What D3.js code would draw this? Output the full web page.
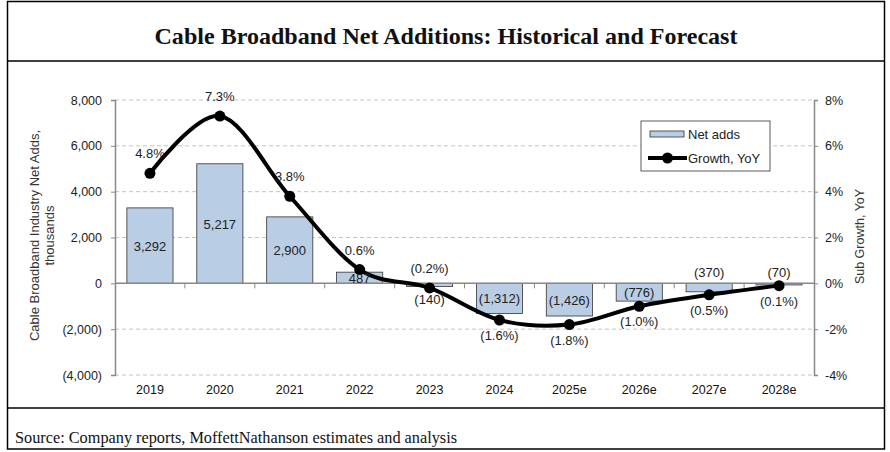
<!DOCTYPE html>
<html>
<head>
<meta charset="utf-8">
<script src="https://cdn.jsdelivr.net/npm/d3@7"></script>
<style>
  body { margin: 0; background: #fff; }
  text { font-family: "Liberation Sans", Arial, sans-serif; }
</style>
</head>
<body>
<svg id="chart" width="890" height="452"></svg>
<script>
const years = ['2019', '2020', '2021', '2022', '2023', '2024', '2025e', '2026e', '2027e', '2028e'];
const netAdds = [3292, 5217, 2900, 487, -140, -1312, -1426, -776, -370, -70];
const growth = [4.8, 7.3, 3.8, 0.6, -0.2, -1.6, -1.8, -1.0, -0.5, -0.1];
// where each label sits relative to its mark
const barLabelPos = ['mid', 'mid', 'mid', 'mid', 'below', 'mid', 'mid', 'mid', 'above', 'above'];
const growthLabelPos = ['above', 'above', 'above', 'above', 'above', 'below', 'below', 'below', 'below', 'below'];
const leftTicks = [-4000, -2000, 0, 2000, 4000, 6000, 8000];
const rightTicks = [-4, -2, 0, 2, 4, 6, 8];

const svg = d3.select('#chart');

const fmtNum = v => v < 0 ? '(' + d3.format(',')(-v) + ')' : d3.format(',')(v);
const fmtPct = v => v < 0 ? '(' + d3.format('.1f')(-v) + '%)' : d3.format('.1f')(v) + '%';

// frame
svg.append('rect')
    .attr('x', 7.5).attr('y', 1.5).attr('width', 877).attr('height', 447.5)
    .attr('fill', 'none').attr('stroke', '#000').attr('stroke-width', 1.5);
[61, 408].forEach(yy => {
    svg.append('line')
        .attr('x1', 7.5).attr('x2', 884.5).attr('y1', yy).attr('y2', yy)
        .attr('stroke', '#000').attr('stroke-width', 1.5);
});

svg.append('text')
    .attr('x', 446).attr('y', 44)
    .attr('text-anchor', 'middle')
    .attr('textLength', 583)
    .attr('lengthAdjust', 'spacingAndGlyphs')
    .style('font-family', '"Liberation Serif", "Times New Roman", serif')
    .style('font-weight', 'bold')
    .style('font-size', '23px')
    .attr('fill', '#111')
    .text('Cable Broadband Net Additions: Historical and Forecast');

svg.append('text')
    .attr('x', 15).attr('y', 443)
    .attr('textLength', 442)
    .attr('lengthAdjust', 'spacingAndGlyphs')
    .style('font-family', '"Liberation Serif", "Times New Roman", serif')
    .style('font-size', '16px')
    .attr('fill', '#111')
    .text('Source: Company reports, MoffettNathanson estimates and analysis');

const plotL = 115, plotR = 814, plotT = 100, plotB = 375;

const x = d3.scaleBand().domain(years).range([plotL, plotR]).paddingInner(0.34).paddingOuter(0.17);
const y = d3.scaleLinear().domain([-4000, 8000]).range([plotB, plotT]);
const y2 = d3.scaleLinear().domain([-4, 8]).range([plotB, plotT]);

// gridlines
svg.append('g')
    .selectAll('line')
    .data(leftTicks.filter(d => d !== 0))
    .enter().append('line')
    .attr('x1', plotL).attr('x2', plotR)
    .attr('y1', d => y(d)).attr('y2', d => y(d))
    .attr('stroke', '#c4c4c4')
    .attr('stroke-dasharray', '4,3');

// left axis
const gl = svg.append('g')
    .attr('transform', `translate(${plotL},0)`)
    .call(d3.axisLeft(y).tickValues(leftTicks).tickSize(4).tickPadding(9).tickFormat(fmtNum));
gl.select('.domain').attr('stroke', '#888').attr('stroke-width', 1.5);
gl.selectAll('.tick line').attr('stroke', '#888');
gl.selectAll('text').style('font-size', '12.5px').attr('fill', '#222');

// right axis
const gr = svg.append('g')
    .attr('transform', `translate(${plotR},0)`)
    .call(d3.axisRight(y2).tickValues(rightTicks).tickSize(4).tickPadding(7).tickFormat(d => d + '%'));
gr.select('.domain').attr('stroke', '#888').attr('stroke-width', 1.5);
gr.selectAll('.tick line').attr('stroke', '#888');
gr.selectAll('text').style('font-size', '12.5px').attr('fill', '#222');

// bars
svg.append('g')
    .selectAll('rect')
    .data(years)
    .enter().append('rect')
    .attr('x', d => x(d))
    .attr('width', x.bandwidth())
    .attr('y', (d, i) => Math.min(y(netAdds[i]), y(0)))
    .attr('height', (d, i) => Math.abs(y(netAdds[i]) - y(0)))
    .attr('fill', '#b9cde5')
    .attr('stroke', '#333')
    .attr('stroke-width', 0.8);

// zero axis with category ticks
svg.append('line')
    .attr('x1', plotL).attr('x2', plotR)
    .attr('y1', y(0)).attr('y2', y(0))
    .attr('stroke', '#888').attr('stroke-width', 1.5);
svg.append('g')
    .selectAll('line')
    .data(years.slice(1))
    .enter().append('line')
    .attr('x1', d => x(d) - x.step() * x.paddingInner() / 2)
    .attr('x2', d => x(d) - x.step() * x.paddingInner() / 2)
    .attr('y1', y(0)).attr('y2', y(0) + 5)
    .attr('stroke', '#888');

// category labels
svg.append('g')
    .selectAll('text')
    .data(years)
    .enter().append('text')
    .attr('x', d => x(d) + x.bandwidth() / 2)
    .attr('y', plotB + 19)
    .attr('text-anchor', 'middle')
    .style('font-size', '12.5px')
    .attr('fill', '#111')
    .text(d => d);

// growth line
const line = d3.line()
    .x((d, i) => x(years[i]) + x.bandwidth() / 2)
    .y(d => y2(d))
    .curve(d3.curveCardinal.tension(0));

svg.append('path')
    .datum(growth)
    .attr('d', line)
    .attr('fill', 'none')
    .attr('stroke', '#000')
    .attr('stroke-width', 4);

svg.append('g')
    .selectAll('circle')
    .data(growth)
    .enter().append('circle')
    .attr('cx', (d, i) => x(years[i]) + x.bandwidth() / 2)
    .attr('cy', d => y2(d))
    .attr('r', 5.5)
    .attr('fill', '#000');

// bar labels
svg.append('g')
    .selectAll('text')
    .data(netAdds)
    .enter().append('text')
    .attr('x', (d, i) => x(years[i]) + x.bandwidth() / 2)
    .attr('y', (d, i) => {
        const pos = barLabelPos[i];
        if (pos === 'above') return y(0) - 6;
        if (pos === 'below') return y(d) + 17;
        return (y(d) + y(0)) / 2 + 5;
    })
    .attr('text-anchor', 'middle')
    .style('font-size', '13px')
    .attr('fill', '#222')
    .text(d => fmtNum(d));

// growth labels
svg.append('g')
    .selectAll('text')
    .data(growth)
    .enter().append('text')
    .attr('x', (d, i) => x(years[i]) + x.bandwidth() / 2)
    .attr('y', (d, i) => growthLabelPos[i] === 'above' ? y2(d) - 15 : y2(d) + 20)
    .attr('text-anchor', 'middle')
    .style('font-size', '13px')
    .attr('fill', '#222')
    .text(d => fmtPct(d));

// axis titles
svg.append('text')
    .attr('transform', `translate(39,${(plotT + plotB) / 2 - 2}) rotate(-90)`)
    .attr('text-anchor', 'middle')
    .style('font-size', '13px')
    .attr('fill', '#333')
    .selectAll('tspan')
    .data(['Cable Broadband Industry Net Adds,', 'thousands'])
    .enter().append('tspan')
    .attr('x', 0)
    .attr('dy', (d, i) => i === 0 ? 0 : 15)
    .text(d => d);

svg.append('text')
    .attr('transform', `translate(864,${(plotT + plotB) / 2 - 1}) rotate(-90)`)
    .attr('text-anchor', 'middle')
    .style('font-size', '12.5px')
    .attr('fill', '#333')
    .text('Sub Growth, YoY');

// legend
const lg = svg.append('g').attr('transform', 'translate(641,121)');
lg.append('rect')
    .attr('width', 129).attr('height', 50)
    .attr('fill', '#fff').attr('stroke', '#333').attr('stroke-width', 0.8);
lg.append('rect')
    .attr('x', 9).attr('y', 10).attr('width', 34).attr('height', 6)
    .attr('fill', '#b9cde5').attr('stroke', '#333').attr('stroke-width', 0.8);
lg.append('text')
    .attr('x', 47).attr('y', 18)
    .style('font-size', '13px').attr('fill', '#222')
    .text('Net adds');
lg.append('line')
    .attr('x1', 7).attr('x2', 46).attr('y1', 37).attr('y2', 37)
    .attr('stroke', '#000').attr('stroke-width', 4);
lg.append('circle')
    .attr('cx', 26.5).attr('cy', 37).attr('r', 5.5).attr('fill', '#000');
lg.append('text')
    .attr('x', 47).attr('y', 42)
    .style('font-size', '13px').attr('fill', '#222')
    .text('Growth, YoY');
</script>
</body>
</html>
